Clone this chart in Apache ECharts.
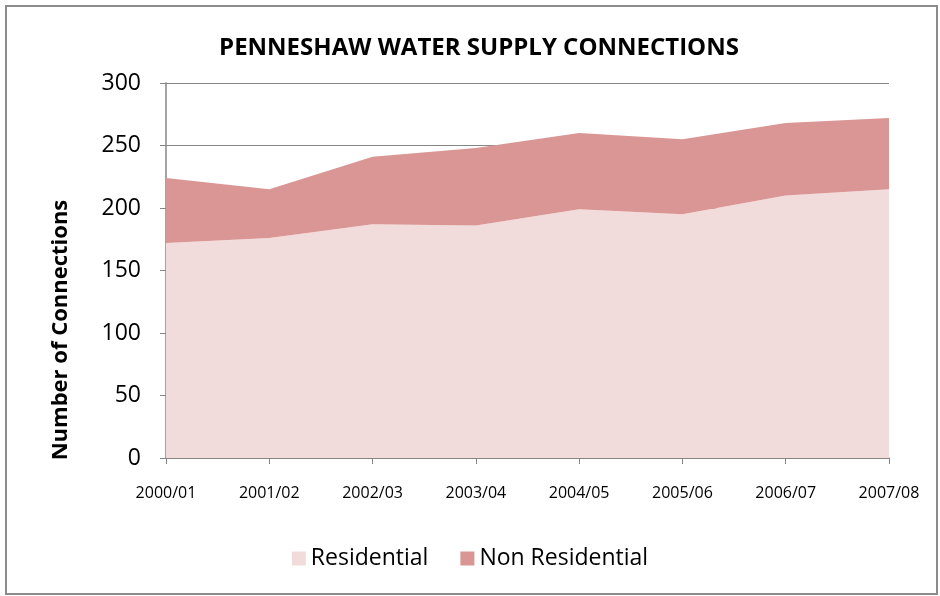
<!DOCTYPE html>
<html>
<head>
<meta charset="utf-8">
<script src="https://cdn.jsdelivr.net/npm/echarts@6/dist/echarts.min.js"></script>
<style>
  html, body { margin: 0; padding: 0; background: #fff; }
  #chart { width: 940px; height: 596px; }
</style>
</head>
<body>
<div id="chart"></div>
<script>
// values
const years = ['2000/01', '2001/02', '2002/03', '2003/04', '2004/05', '2005/06', '2006/07', '2007/08'];
const residential = [172, 176, 187, 186, 199, 195, 210, 215];
const nonResidential = [52, 39, 54, 62, 61, 60, 58, 57];

const font = '"Open Sans", "Liberation Sans", sans-serif';
const chart = echarts.init(document.getElementById('chart'));

chart.setOption({
  animation: false,
  textStyle: { fontFamily: font },
  title: {
    text: 'PENNESHAW WATER SUPPLY CONNECTIONS',
    left: 474,
    top: 31,
    textAlign: 'center',
    textStyle: { fontSize: 24, fontWeight: 'bold', color: '#000', fontFamily: font },
  },
  graphic: [
    {
      type: 'rect',
      shape: { x: 6, y: 6, width: 931, height: 588 },
      style: { fill: 'none', stroke: '#8c8c8c', lineWidth: 2 },
      silent: true,
    },
    {
      // axis title sits below the plot centre in the reference
      type: 'text',
      x: 61,
      y: 330,
      rotation: Math.PI / 2,
      style: {
        text: 'Number of Connections',
        font: 'bold 22px ' + font,
        fill: '#000',
        align: 'center',
        verticalAlign: 'middle',
      },
      silent: true,
    },
  ],
  legend: {
    top: 542,
    left: 'center',
    itemWidth: 14,
    itemHeight: 14,
    itemGap: 32,
    icon: 'rect',
    textStyle: { fontSize: 23, color: '#000', fontFamily: font },
    data: ['Residential', 'Non Residential'],
  },
  grid: { left: 166, right: 51, top: 83, bottom: 138 },
  xAxis: {
    type: 'category',
    data: years,
    boundaryGap: false,
    axisLine: { lineStyle: { color: '#868686', width: 1.5 } },
    axisTick: { length: 6, lineStyle: { color: '#868686' } },
    axisLabel: { fontSize: 16, color: '#000', margin: 27, fontFamily: font },
  },
  yAxis: {
    type: 'value',
    min: 0,
    max: 300,
    interval: 50,
    axisLine: { show: true, lineStyle: { color: '#868686', width: 1.5 } },
    axisTick: { show: true, length: 6, lineStyle: { color: '#868686' } },
    splitLine: { lineStyle: { color: '#868686', width: 1.2 } },
    axisLabel: { fontSize: 23, color: '#000', margin: 25, fontFamily: font },
  },
  series: [
    {
      name: 'Residential',
      type: 'line',
      stack: 'total',
      data: residential,
      symbol: 'none',
      lineStyle: { width: 0 },
      itemStyle: { color: '#F2DCDB' },
      areaStyle: { color: '#F2DCDB', opacity: 1 },
    },
    {
      name: 'Non Residential',
      type: 'line',
      stack: 'total',
      data: nonResidential,
      symbol: 'none',
      lineStyle: { width: 0 },
      itemStyle: { color: '#D99694' },
      areaStyle: { color: '#D99694', opacity: 1 },
    },
  ],
});
</script>
</body>
</html>
